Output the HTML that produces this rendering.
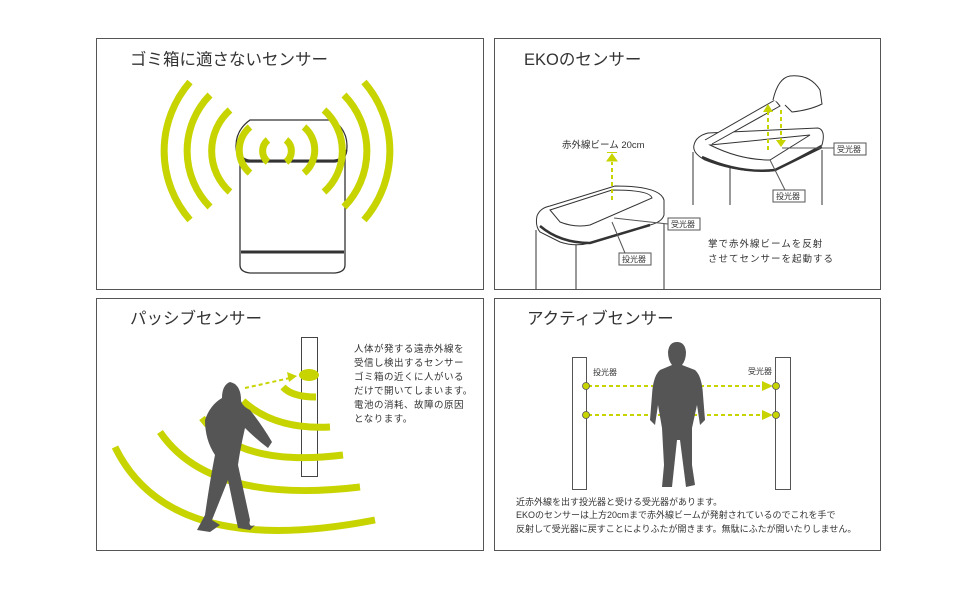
<!DOCTYPE html>
<html><head><meta charset="utf-8"><style>
html,body{margin:0;padding:0;background:#fff;}
svg{display:block;font-family:"Liberation Sans","Noto Sans CJK JP",sans-serif;}
</style></head><body>
<svg width="970" height="600" viewBox="0 0 970 600" xmlns="http://www.w3.org/2000/svg">
<rect width="970" height="600" fill="#fff"/>
<g fill="none" stroke="#555" stroke-width="1">
<rect x="96.5" y="38.5" width="387" height="251"/>
<rect x="494.5" y="38.5" width="386" height="251"/>
<rect x="96.5" y="298.5" width="387" height="252"/>
<rect x="494.5" y="298.5" width="386" height="252"/>
</g>
<g fill="#333" font-size="16.5">
<text x="130" y="65">ゴミ箱に適さないセンサー</text>
<text x="524" y="65">EKOのセンサー</text>
<text x="130" y="324">パッシブセンサー</text>
<text x="527" y="324">アクティブセンサー</text>
</g>

<!-- TL: trash can -->
<g fill="#fff" stroke="#333" stroke-width="1.3">
<path d="M240,145 L240,265 Q240,272 250,273 L335,273 Q345,272 345,265 L345,145"/>
<path d="M236,146 Q236,130 250,120 L333,120 Q347,130 347,146 Q347,160 335,162 L248,162 Q236,160 236,146 Z"/>
</g>
<path d="M241,252 L344,252" stroke="#333" stroke-width="3"/>
<path d="M238,150 Q240,160 250,161 L334,161 Q345,160 346,150" stroke="#333" stroke-width="3" fill="none"/>
<g fill="none" stroke="#c8d400" stroke-width="7" stroke-linecap="butt">
<path d="M268,140 A14,14 0 0 0 268,162"/>
<path d="M286,140 A14,14 0 0 1 286,162"/>
<path d="M250,127 A30,30 0 0 0 250,173"/>
<path d="M304,127 A30,30 0 0 1 304,173"/>
<path d="M230,110 A55,55 0 0 0 230,192"/>
<path d="M324,110 A55,55 0 0 1 324,192"/>
<path d="M210,95 A80,80 0 0 0 210,207"/>
<path d="M344,95 A80,80 0 0 1 344,207"/>
<path d="M190,82 A105,105 0 0 0 190,220"/>
<path d="M364,82 A105,105 0 0 1 364,220"/>
</g>

<!-- TR -->
<g fill="#fff" stroke="#333" stroke-width="1">
<path d="M536,230 L536,289 M576,240 L576,289 M664,224 L664,289"/>
<path d="M537,216 Q540,208 550,206 L615,186 Q660,186 664,200 L664,215 Q662,222 650,225 L590,243 Q575,247 560,242 L540,232 Q535,226 537,216 Z"/>
<path d="M550,210 L612,190 Q650,190 652,198 L590,225 Q575,228 560,222 Z"/>
<path d="M693,152 L693,205 M730,160 L730,205 M822,150 L822,205"/>
<path d="M694,145 Q696,136 708,133 L818,128 Q826,130 822,145 L775,170 Q740,174 705,160 Q692,153 694,145 Z"/>
<path d="M710,145 L810,135 L770,160 Q740,160 710,145 Z"/>
<path d="M705,140 L775,100 L780,106 L712,144"/>
<path d="M773,100 Q778,78 790,76 Q810,74 820,90 L822,104 Q810,110 792,112 L785,105"/>
</g>
<path d="M540,226 Q560,243 590,243 L650,225" stroke="#333" stroke-width="2.5" fill="none"/>
<path d="M702,157 Q740,174 775,170 L822,147" stroke="#333" stroke-width="2.5" fill="none"/>
<g stroke="#c8d400" stroke-width="2" stroke-dasharray="4,3" fill="none">
<path d="M612,200 L612,162"/>
<path d="M768,150 L768,110"/>
<path d="M781,110 L781,140"/>
</g>
<path d="M607,161 L617,161 L612,154 Z M607,152.5 L617,152.5" fill="#c8d400" stroke="#c8d400"/>
<path d="M763,112 L773,112 L768,104 Z" fill="#c8d400"/>
<path d="M776,140 L786,140 L781,147 Z" fill="#c8d400"/>
<g stroke="#555" stroke-width="1" fill="none">
<path d="M614,218 L668,224 M612,222 L625,253 M782,148 L834,148 M770,160 L785,190"/>
</g>
<g font-size="8" fill="#333">
<rect x="668" y="218" width="32" height="12" fill="#fff" stroke="#555"/><text x="671" y="227">受光器</text>
<rect x="619" y="253" width="32" height="12" fill="#fff" stroke="#555"/><text x="622" y="262">投光器</text>
<rect x="834" y="143" width="32" height="12" fill="#fff" stroke="#555"/><text x="837" y="152">受光器</text>
<rect x="773" y="190" width="32" height="12" fill="#fff" stroke="#555"/><text x="776" y="199">投光器</text>
</g>
<g font-size="9.5" fill="#333">
<text x="562" y="148">赤外線ビーム 20cm</text>
<text x="708" y="247" letter-spacing="1">掌で赤外線ビームを反射</text>
<text x="708" y="262" letter-spacing="1">させてセンサーを起動する</text>
</g>

<!-- BL -->
<rect x="301.5" y="337.5" width="16" height="139" fill="#fff" stroke="#444"/>
<ellipse cx="309" cy="375" rx="10" ry="6" fill="#c8d400"/>
<path d="M245,388 L290,378" stroke="#c8d400" stroke-width="2" stroke-dasharray="4,3"/>
<path d="M287,372 L297,376 L289,382 Z" fill="#c8d400"/>
<g fill="none" stroke="#c8d400" stroke-width="7">
<path d="M283,387 Q292,397 316,397"/>
<path d="M243,401 Q275,430 330,427"/>
<path d="M202,418 Q240,468 343,455"/>
<path d="M160,432 Q210,505 360,487"/>
<path d="M115,447 Q170,560 375,520"/>
</g>
<path d="M230,382 Q240,384 241,398 Q240,405 250,410 Q262,425 272,442 L268,448 Q255,438 245,428 Q240,450 238,465 L250,520 Q248,528 255,525 L250,530 L238,528 L228,480 Q220,500 212,520 L220,525 L210,532 L197,530 L205,515 Q210,480 215,455 Q205,440 205,420 Q210,405 222,398 Q222,385 230,382 Z" fill="#555"/>
<g font-size="9.5" fill="#333" letter-spacing="0.5">
<text x="354" y="352">人体が発する遠赤外線を</text>
<text x="354" y="366">受信し検出するセンサー</text>
<text x="354" y="380">ゴミ箱の近くに人がいる</text>
<text x="354" y="394">だけで開いてしまいます。</text>
<text x="354" y="408">電池の消耗、故障の原因</text>
<text x="354" y="422">となります。</text>
</g>

<!-- BR -->
<rect x="572.5" y="357.5" width="14" height="132" fill="#fff" stroke="#555"/>
<rect x="775.5" y="357.5" width="15" height="132" fill="#fff" stroke="#555"/>
<g stroke="#c8d400" stroke-width="2" stroke-dasharray="4,3">
<path d="M588,386 L765,386"/><path d="M588,415 L765,415"/>
</g>
<path d="M762,381 L773,386 L762,391 Z M762,410 L773,415 L762,420 Z" fill="#c8d400"/>
<g fill="#c8d400" stroke="#555" stroke-width="0.8">
<circle cx="586" cy="386" r="3.5"/><circle cx="586" cy="415" r="3.5"/>
<circle cx="776" cy="386" r="3.5"/><circle cx="776" cy="415" r="3.5"/>
</g>
<path d="M677,342 Q685,342 686,352 Q686,360 682,365 L695,370 Q702,376 703,395 L705,420 L700,425 L697,405 L692,428 L692,465 L695,485 L686,487 L680,440 L677,440 L672,487 L662,487 L664,465 L662,428 L658,405 L655,425 L650,420 L652,395 Q653,376 660,370 L672,365 Q668,360 668,352 Q669,342 677,342 Z" fill="#555"/>
<g font-size="8" fill="#333"><text x="593" y="375">投光器</text><text x="748" y="374">受光器</text></g>
<g font-size="9" fill="#333">
<text x="516" y="505">近赤外線を出す投光器と受ける受光器があります。</text>
<text x="516" y="518">EKOのセンサーは上方20cmまで赤外線ビームが発射されているのでこれを手で</text>
<text x="516" y="532">反射して受光器に戻すことによりふたが開きます。無駄にふたが開いたりしません。</text>
</g>
</svg>
</body></html>
